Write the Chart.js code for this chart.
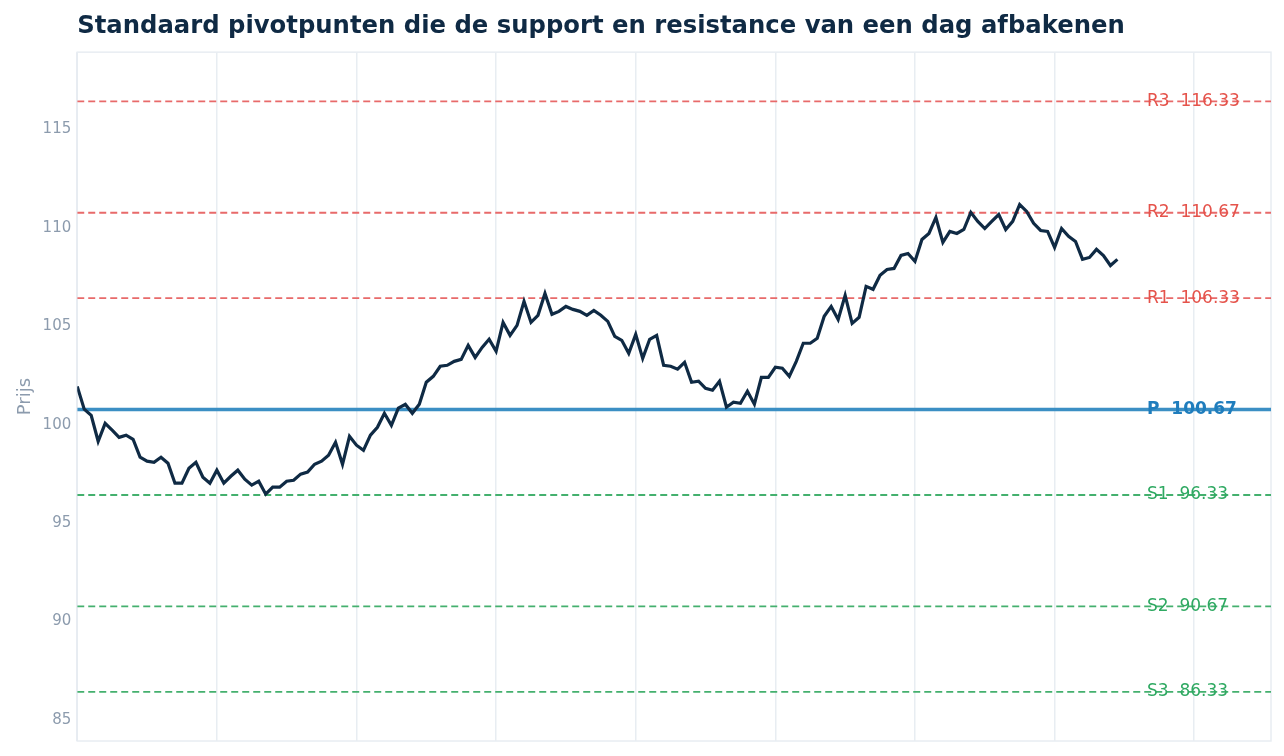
<!DOCTYPE html>
<html>
<head>
<meta charset="utf-8">
<script src="https://cdn.jsdelivr.net/npm/chart.js@4.4.1/dist/chart.umd.min.js"></script>
<style>
  html, body { margin: 0; padding: 0; background: #fff; }
  #wrap { width: 1284px; height: 756px; }
</style>
</head>
<body>
<div id="wrap"><canvas id="chart-pivots"></canvas></div>
<script>
// Slotkoersen per periode
const prices = [
  101.85, 100.69, 100.38, 99.06, 99.97, 99.62, 99.26, 99.37, 99.16, 98.25,
  98.05, 97.99, 98.25, 97.94, 96.93, 96.93, 97.69, 97.99, 97.23, 96.93,
  97.59, 96.93, 97.28, 97.59, 97.13, 96.83, 97.03, 96.37, 96.73, 96.73,
  97.03, 97.08, 97.39, 97.49, 97.89, 98.05, 98.35, 99.01, 97.89, 99.31,
  98.86, 98.60, 99.37, 99.77, 100.48, 99.87, 100.74, 100.94, 100.48, 100.94,
  102.06, 102.36, 102.87, 102.92, 103.12, 103.22, 103.93, 103.32, 103.83, 104.24,
  103.63, 105.10, 104.44, 104.95, 106.17, 105.10, 105.46, 106.57, 105.51, 105.66,
  105.91, 105.76, 105.66, 105.46, 105.71, 105.46, 105.15, 104.39, 104.19, 103.53,
  104.49, 103.27, 104.24, 104.44, 102.92, 102.87, 102.72, 103.07, 102.06, 102.11,
  101.75, 101.65, 102.11, 100.79, 101.04, 100.99, 101.60, 100.94, 102.31, 102.31,
  102.82, 102.77, 102.36, 103.12, 104.04, 104.04, 104.29, 105.41, 105.91, 105.25,
  106.47, 105.05, 105.36, 106.93, 106.78, 107.49, 107.79, 107.84, 108.50, 108.60,
  108.20, 109.31, 109.62, 110.43, 109.16, 109.72, 109.62, 109.82, 110.69, 110.23,
  109.87, 110.23, 110.58, 109.82, 110.23, 111.09, 110.74, 110.13, 109.77, 109.72,
  108.91, 109.87, 109.47, 109.21, 108.30, 108.40, 108.81, 108.50, 107.99, 108.30
];

// Pivotniveaus
const levelNames  = ['R3', 'R2', 'R1', 'P', 'S1', 'S2', 'S3'];
const levelValues = [116.33, 110.67, 106.33, 100.67, 96.33, 90.67, 86.33];

const yTicks = [85, 90, 95, 100, 105, 110, 115];
const xTicks = [0, 20, 40, 60, 80, 100, 120, 140, 160];

const X_MAX = 171;
const Y_MIN = 83.83;
const Y_MAX = 118.83;

const C_NAVY = '#0f2a44';
const C_TICK = '#8c9bad';
const C_GRID = '#e8edf2';
const C_RED_LINE = '#e86a6a';
const C_RED_TXT = '#e5534b';
const C_GREEN_LINE = '#44b06e';
const C_GREEN_TXT = '#2fa962';
const C_BLUE_LINE = '#3b8fc4';
const C_BLUE_TXT = '#1f7dbd';

Chart.defaults.font.family = "'DejaVu Sans', sans-serif";

function levelStyle(name) {
  if (name === 'P') return { line: C_BLUE_LINE, txt: C_BLUE_TXT, width: 3.5, dash: [] };
  if (name[0] === 'R') return { line: C_RED_LINE, txt: C_RED_TXT, width: 1.8, dash: [7, 4] };
  return { line: C_GREEN_LINE, txt: C_GREEN_TXT, width: 1.8, dash: [7, 4] };
}

const levelSets = levelNames.map((name, i) => {
  const st = levelStyle(name);
  return {
    label: name,
    data: [{ x: 0, y: levelValues[i] }, { x: X_MAX, y: levelValues[i] }],
    borderColor: st.line,
    borderWidth: st.width,
    borderDash: st.dash,
    pointRadius: 0,
    order: 2
  };
});

const frameAndLabels = {
  id: 'frameAndLabels',
  beforeDatasetsDraw(chart) {
    const { ctx, chartArea: a } = chart;
    ctx.save();
    ctx.strokeStyle = C_GRID;
    ctx.lineWidth = 1.5;
    ctx.strokeRect(a.left, a.top, a.right - a.left, a.bottom - a.top);
    ctx.restore();
  },
  afterDatasetsDraw(chart) {
    const { ctx, chartArea: a } = chart;
    const y = chart.scales.y;
    ctx.save();
    ctx.textBaseline = 'middle';
    ctx.textAlign = 'left';
    levelNames.forEach((name, i) => {
      const st = levelStyle(name);
      ctx.fillStyle = st.txt;
      ctx.font = (name === 'P' ? 'bold ' : '') + "17px 'DejaVu Sans', sans-serif";
      ctx.fillText(name + '  ' + levelValues[i].toFixed(2), a.right - 124, y.getPixelForValue(levelValues[i]));
    });
    ctx.restore();
  }
};

new Chart(document.getElementById('chart-pivots'), {
  type: 'line',
  data: {
    datasets: [
      {
        label: 'Koers',
        data: prices.map((p, i) => ({ x: i, y: p })),
        borderColor: C_NAVY,
        borderWidth: 3.2,
        pointRadius: 0,
        tension: 0,
        order: 1
      },
      ...levelSets
    ]
  },
  plugins: [frameAndLabels],
  options: {
    responsive: true,
    maintainAspectRatio: false,
    animation: false,
    layout: { padding: { left: 7, right: 13, bottom: 13, top: 0 } },
    plugins: {
      legend: { display: false },
      tooltip: { enabled: false },
      title: {
        display: true,
        text: 'Standaard pivotpunten die de support en resistance van een dag afbakenen',
        align: 'start',
        fullSize: false,
        color: C_NAVY,
        font: { size: 24.3, weight: 'bold' },
        padding: { top: 12, bottom: 11 }
      }
    },
    scales: {
      x: {
        type: 'linear',
        min: 0,
        max: X_MAX,
        afterBuildTicks: (s) => { s.ticks = xTicks.map((v) => ({ value: v })); },
        grid: { color: C_GRID, lineWidth: 1.5, drawTicks: false },
        border: { display: false },
        ticks: { display: false }
      },
      y: {
        min: Y_MIN,
        max: Y_MAX,
        afterBuildTicks: (s) => { s.ticks = yTicks.map((v) => ({ value: v })); },
        grid: { display: false, drawTicks: false },
        border: { display: false },
        ticks: { color: C_TICK, font: { size: 15 }, padding: 6, labelOffset: 2 },
        title: { display: true, text: 'Prijs', color: C_TICK, font: { size: 18 }, padding: { top: 8, bottom: 0 } }
      }
    }
  }
});
</script>
</body>
</html>
